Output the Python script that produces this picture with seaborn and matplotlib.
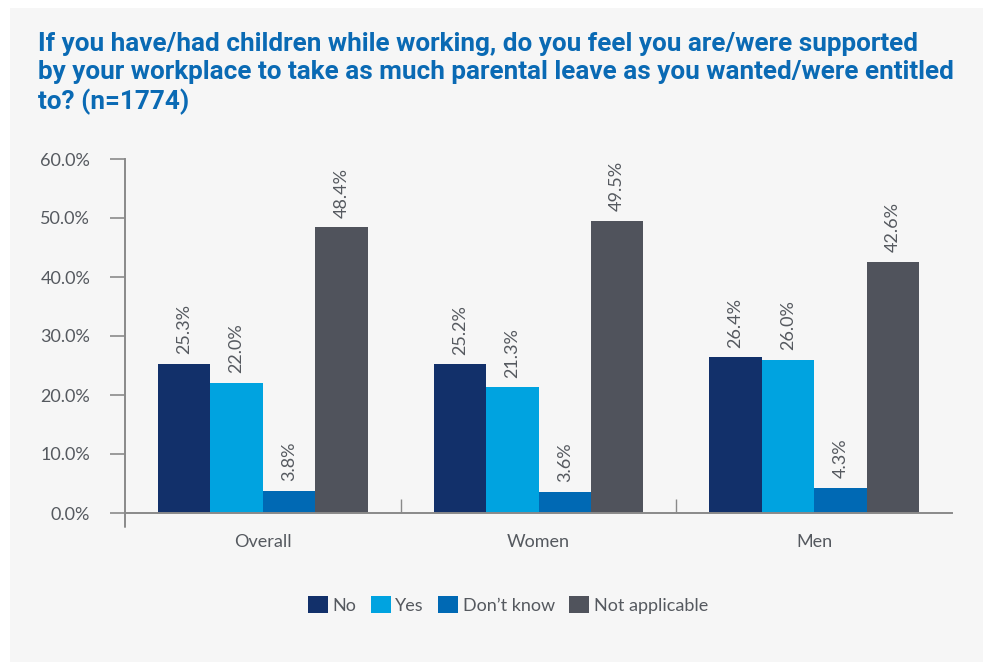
import matplotlib
matplotlib.use("Agg")
import matplotlib.pyplot as plt
import seaborn as sns
import pandas as pd
from matplotlib import font_manager
from matplotlib.patches import Rectangle

groups = ["Overall", "Women", "Men"]
responses = ["No", "Yes", "Don\u2019t know", "Not applicable"]
no_vals = [25.3, 25.2, 26.4]
yes_vals = [22.0, 21.3, 26.0]
dk_vals = [3.8, 3.6, 4.3]
na_vals = [48.4, 49.5, 42.6]
yticks = [0, 10, 20, 30, 40, 50, 60]
colors = ["#12306a", "#00a3e0", "#0069b4", "#50535c"]

title = ("If you have/had children while working, do you feel you are/were supported\n"
         "by your workplace to take as much parental leave as you wanted/were entitled\n"
         "to? (n=1774)")

rows = []
for resp, vals in zip(responses, [no_vals, yes_vals, dk_vals, na_vals]):
    for g, v in zip(groups, vals):
        rows.append({"group": g, "response": resp, "value": v})
df = pd.DataFrame(rows)

names = {f.name for f in font_manager.fontManager.ttflist}
title_font = "Liberation Sans Narrow" if "Liberation Sans Narrow" in names else "Roboto"
body_font = "Lato" if "Lato" in names else "DejaVu Sans"

sns.set_style("white")
plt.rcParams["font.family"] = [body_font, "DejaVu Sans"]

text_col = "#55595f"
spine_col = "#8a8a8a"
bg = "#f6f6f6"

fig = plt.figure(figsize=(9.83, 6.62), dpi=100, facecolor="white")
fig.patches.append(Rectangle((10 / 983, 0), 1, 1 - 8 / 662, transform=fig.transFigure,
                             facecolor=bg, edgecolor="none", zorder=-10))
ax = fig.add_axes([125 / 983, 1 - 513 / 662, (952 - 125) / 983, (513 - 159) / 662])
ax.set_facecolor(bg)

sns.barplot(data=df, x="group", y="value", hue="response", order=groups,
            hue_order=responses, palette=colors, width=0.76, saturation=1,
            edgecolor="none", linewidth=0, legend=False, ax=ax)

for cont in ax.containers:
    labels = [f"{b.get_height():.1f}%" for b in cont]
    ax.bar_label(cont, labels=labels, rotation=90, padding=7, fontsize=13, color=text_col)

ax.set_ylim(0, 60)
ax.set_xlim(-0.5, 2.5)
ax.set_yticks(yticks)
ax.set_yticklabels([f"{t:.1f}%" for t in yticks], fontsize=13, color=text_col)
ax.tick_params(axis="y", length=11, width=1.2, color=spine_col, pad=14, direction="out", left=True)
ax.set_xticks(range(len(groups)))
ax.set_xticklabels(groups, fontsize=13, color=text_col)
ax.tick_params(axis="x", length=0, pad=15, bottom=True)
ax.set_xticks([0.5, 1.5], minor=True)
ax.tick_params(axis="x", which="minor", direction="in", length=10, width=1.0, color=spine_col, bottom=True)
ax.plot([-0.5, -0.5], [0, -2.3], color=spine_col, lw=1.4, clip_on=False)
ax.set_xlabel("")
ax.set_ylabel("")
for s in ["top", "right"]:
    ax.spines[s].set_visible(False)
for s in ["left", "bottom"]:
    ax.spines[s].set_color(spine_col)
    ax.spines[s].set_linewidth(1.4)
ax.grid(False)

handles = [Rectangle((0, 0), 1, 1, facecolor=c, edgecolor="none") for c in colors]
fig.legend(handles, responses, loc="center", bbox_to_anchor=(0.517, 1 - 605 / 662), ncol=4,
           frameon=False, fontsize=13, handlelength=1.1, handleheight=1.1,
           handletextpad=0.25, columnspacing=0.8, labelcolor=text_col)

fig.text(38 / 983, 1 - 32 / 662, title, ha="left", va="top", fontsize=18.8,
         fontweight="bold", color="#0a6ab4", family=[title_font, "DejaVu Sans"],
         linespacing=1.22)

fig.savefig("out.png", dpi=100, facecolor=fig.get_facecolor())
